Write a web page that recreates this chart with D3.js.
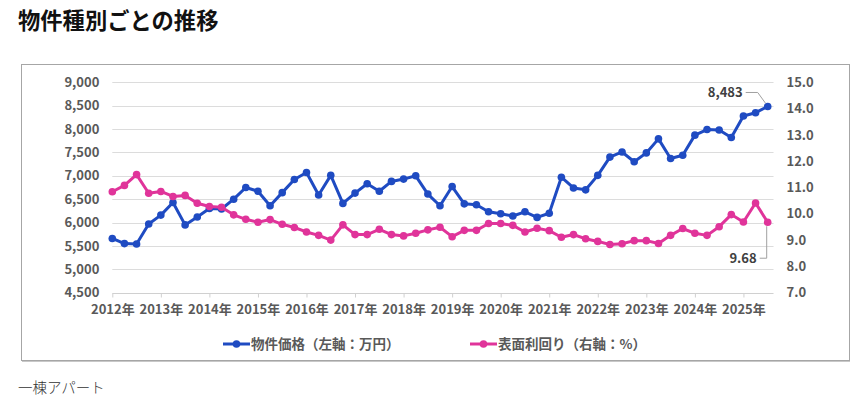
<!DOCTYPE html>
<html>
<head>
<meta charset="utf-8">
<script src="https://cdn.jsdelivr.net/npm/d3@7"></script>
<style>
  body { margin: 0; background: #fff; }
  svg text { font-family: "Noto Sans CJK JP", "Noto Sans", sans-serif; }
</style>
</head>
<body>
<div id="chart"></div>
<script>
// quarterly data, 2012 Q1 .. 2025 Q3
const yearLabels = [2012, 2013, 2014, 2015, 2016, 2017, 2018, 2019, 2020, 2021, 2022, 2023, 2024, 2025];
const priceValues = [
  5660, 5550, 5540, 5970, 6160, 6430, 5950, 6120, 6300, 6290,
  6500, 6750, 6670, 6360, 6640, 6920, 7070, 6590, 7010, 6410,
  6630, 6830, 6670, 6880, 6930, 7000, 6610, 6360, 6770, 6400,
  6380, 6230, 6190, 6140, 6230, 6110, 6200, 6970, 6740, 6700,
  7010, 7400, 7510, 7300, 7490, 7790, 7370, 7440, 7870, 7990,
  7980, 7820, 8280, 8350, 8483
];
const yieldValues = [
  10.84, 11.08, 11.49, 10.78, 10.85, 10.66, 10.70, 10.40, 10.28, 10.25,
  9.96, 9.79, 9.68, 9.78, 9.60, 9.48, 9.31, 9.18, 9.00, 9.58,
  9.21, 9.21, 9.41, 9.21, 9.16, 9.26, 9.39, 9.49, 9.13, 9.37,
  9.37, 9.63, 9.63, 9.56, 9.31, 9.45, 9.36, 9.11, 9.21, 9.05,
  8.95, 8.83, 8.86, 8.98, 8.98, 8.87, 9.18, 9.44, 9.26, 9.18,
  9.51, 9.97, 9.69, 10.41, 9.68
];
const leftTicks = [4500, 5000, 5500, 6000, 6500, 7000, 7500, 8000, 8500, 9000];
const rightTicks = [7, 8, 9, 10, 11, 12, 13, 14, 15];
const seriesNames = ["物件価格（左軸：万円）", "表面利回り（右軸：%）"];
const seriesColors = ["#1f4bc2", "#e0349a"];

const W = 868, H = 398;
const svg = d3.select("#chart").append("svg")
  .attr("width", W).attr("height", H);

// title
svg.append("text")
  .attr("x", 18).attr("y", 29)
  .attr("font-size", 22.3).attr("font-weight", 700).attr("fill", "#111")
  .text("物件種別ごとの推移");

// frame
svg.append("rect")
  .attr("x", 21.5).attr("y", 64.5).attr("width", 828).attr("height", 296)
  .attr("fill", "none").attr("stroke", "#a6a6a6").attr("stroke-width", 1);
svg.append("line")
  .attr("x1", 22).attr("x2", 850).attr("y1", 361.5).attr("y2", 361.5)
  .attr("stroke", "#c8c8c8");

// scales (x in years, one point per quarter)
const t = i => yearLabels[0] + i * 0.25;
const x = d3.scaleLinear().domain([2012, 2025.5]).range([112.3, 767.7]);
const yL = d3.scaleLinear().domain([4500, 9000]).range([292.7, 82.3]);
const yR = d3.scaleLinear().domain([7, 15]).range([292.7, 82.3]);
const xEnd = x(2025.62);

// gridlines
svg.append("g").selectAll("line")
  .data(leftTicks.slice(1))
  .join("line")
  .attr("x1", x(2012)).attr("x2", xEnd)
  .attr("y1", d => Math.round(yL(d)) + 0.5).attr("y2", d => Math.round(yL(d)) + 0.5)
  .attr("stroke", "#dcdcdc");

// bottom axis
const xAxis = svg.append("g")
  .attr("transform", `translate(0,${Math.round(yL(4500)) + 0.5})`)
  .call(d3.axisBottom(x).tickValues(yearLabels).tickSize(4).tickSizeOuter(0)
    .tickFormat(d => d + "年"));
xAxis.select(".domain").attr("stroke", "#d0d0d0").attr("d", `M${x(2012)},0H${xEnd}`);
xAxis.selectAll(".tick line").attr("stroke", "#d0d0d0");
xAxis.selectAll(".tick text")
  .attr("y", 11).attr("dy", "0.71em")
  .attr("font-size", 13).attr("font-weight", 700).attr("fill", "#595959");

// left axis
const leftAxis = svg.append("g")
  .attr("transform", `translate(${x(2012)},0)`)
  .call(d3.axisLeft(yL).tickValues(leftTicks).tickSize(0).tickFormat(d3.format(",")));
leftAxis.select(".domain").remove();
leftAxis.selectAll(".tick text")
  .attr("x", -13)
  .attr("font-size", 13).attr("font-weight", 700).attr("fill", "#595959");

// right axis
const rightAxis = svg.append("g")
  .attr("transform", `translate(${xEnd},0)`)
  .call(d3.axisRight(yR).tickValues(rightTicks).tickSize(0).tickFormat(d3.format(".1f")));
rightAxis.select(".domain").remove();
rightAxis.selectAll(".tick text")
  .attr("x", 13)
  .attr("font-size", 13).attr("font-weight", 700).attr("fill", "#595959");

// series
const series = [
  { values: priceValues, y: yL, color: seriesColors[0] },
  { values: yieldValues, y: yR, color: seriesColors[1] }
];
series.forEach(s => {
  const line = d3.line().x((d, i) => x(t(i))).y(d => s.y(d));
  svg.append("path")
    .datum(s.values)
    .attr("d", line)
    .attr("fill", "none")
    .attr("stroke", s.color).attr("stroke-width", 3)
    .attr("stroke-linejoin", "round");
  svg.append("g").selectAll("circle")
    .data(s.values)
    .join("circle")
    .attr("cx", (d, i) => x(t(i)))
    .attr("cy", d => s.y(d))
    .attr("r", 3.8)
    .attr("fill", s.color);
});

// end labels with leader lines
const last = priceValues.length - 1;
const px = x(t(last)), pyL = yL(priceValues[last]), pyR = yR(yieldValues[last]);
svg.append("path")
  .attr("d", `M${px - 22},${pyL - 14}H${px - 10}L${px - 2},${pyL - 3}`)
  .attr("fill", "none").attr("stroke", "#a0a0a0").attr("stroke-width", 1);
svg.append("text")
  .attr("x", px - 25).attr("y", pyL - 14).attr("dy", "0.35em")
  .attr("text-anchor", "end")
  .attr("font-size", 13).attr("font-weight", 700).attr("fill", "#404040")
  .text(d3.format(",")(priceValues[last]));
svg.append("path")
  .attr("d", `M${px - 8},${pyR + 36}H${px - 1}V${pyR + 4}`)
  .attr("fill", "none").attr("stroke", "#a0a0a0").attr("stroke-width", 1);
svg.append("text")
  .attr("x", px - 11).attr("y", pyR + 36).attr("dy", "0.35em")
  .attr("text-anchor", "end")
  .attr("font-size", 13).attr("font-weight", 700).attr("fill", "#404040")
  .text(d3.format(".2f")(yieldValues[last]));

// legend
const legendX = [223, 470];
const legend = svg.append("g").selectAll("g")
  .data(seriesNames)
  .join("g")
  .attr("transform", (d, i) => `translate(${legendX[i]},344)`);
legend.append("line")
  .attr("x1", 0).attr("x2", 27).attr("y1", 0).attr("y2", 0)
  .attr("stroke", (d, i) => seriesColors[i]).attr("stroke-width", 3);
legend.append("circle")
  .attr("cx", 13.5).attr("cy", 0).attr("r", 3.8)
  .attr("fill", (d, i) => seriesColors[i]);
legend.append("text")
  .attr("x", 28).attr("y", 0).attr("dy", "0.36em")
  .attr("font-size", 13.5).attr("font-weight", 700).attr("fill", "#595959")
  .text(d => d);

// caption
svg.append("text")
  .attr("x", 18).attr("y", 388).attr("dy", "0.36em")
  .attr("font-size", 14.5).attr("font-weight", 300).attr("fill", "#333")
  .text("一棟アパート");
</script>
</body>
</html>
